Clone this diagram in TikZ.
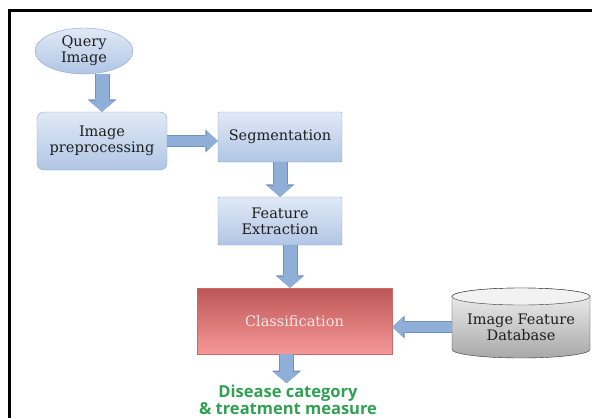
\documentclass[tikz,border=0pt]{standalone}
\usepackage{fontspec}
\setmainfont{DejaVu Serif}
\newfontfamily\notefont{Open Sans}
\usetikzlibrary{shapes.geometric,arrows.meta}

\definecolor{boxtop}{RGB}{224,233,246}
\definecolor{boxbot}{RGB}{176,198,229}
\definecolor{boxline}{RGB}{136,164,206}
\definecolor{arrowfill}{RGB}{143,174,216}
\definecolor{arrowline}{RGB}{112,144,192}
\definecolor{clstop}{RGB}{190,86,86}
\definecolor{clsbot}{RGB}{246,152,152}
\definecolor{clsline}{RGB}{196,108,108}
\definecolor{clstext}{RGB}{252,230,230}
\definecolor{cyltop}{RGB}{242,242,242}
\definecolor{cylbot}{RGB}{168,168,168}
\definecolor{cylline}{RGB}{50,50,50}
\definecolor{notegreen}{RGB}{48,160,82}
\definecolor{textgray}{RGB}{30,30,30}

\tikzset{
  stepbox/.style={draw=boxline, shade, top color=boxtop, bottom color=boxbot,
    text=textgray, align=center, inner sep=0pt,
    font=\fontsize{14.5}{16}\selectfont},
  fatdown/.style={line width=13pt, arrowfill,
    -{Triangle[width=26pt,length=11pt,line width=0pt]},
    preaction={draw=arrowline, line width=15pt,
      -{Triangle[width=29pt,length=12.5pt,line width=0pt]}}},
  fatside/.style={line width=10pt, arrowfill,
    -{Triangle[width=20pt,length=11pt,line width=0pt]},
    preaction={draw=arrowline, line width=12pt,
      -{Triangle[width=23pt,length=12.5pt,line width=0pt]}}}
}

\begin{document}
\begin{tikzpicture}[x=1pt,y=-1pt]
	\useasboundingbox (0,0) rectangle (592,418);
	\draw[line width=3pt] (592,10) -- (9,10) -- (9,418);

	% steps
	\node[stepbox, ellipse, minimum width=98pt, minimum height=46pt] (query) at (84,51) {Query\\Image};
	\node[stepbox, rounded corners=7pt, minimum width=130pt, minimum height=58pt] (pre) at (102,141) {Image\\preprocessing};
	\node[stepbox, rounded corners=1pt, minimum width=124pt, minimum height=50pt] (seg) at (280,137) {Segmentation};
	\node[stepbox, rounded corners=1pt, minimum width=124pt, minimum height=48pt] (feat) at (280,221) {Feature\\Extraction};
	\node[stepbox, draw=clsline, top color=clstop, bottom color=clsbot, text=clstext,
		minimum width=195pt, minimum height=66pt] (cls) at (294.5,321) {Classification};

	% database
	\path[draw=cylline, shade, top color=cyltop, bottom color=cylbot] (452,296.5) -- (452,349.5)
		arc[start angle=180, end angle=360, x radius=69pt, y radius=8.5pt] -- (590,296.5)
		arc[start angle=0, end angle=180, x radius=69pt, y radius=8.5pt] -- cycle;
	\draw[cylline, fill=cyltop] (521,296.5) ellipse[x radius=69pt, y radius=8.5pt];
	\node[text=textgray, align=center, inner sep=0pt, minimum width=138pt, minimum height=50pt,
		font=\fontsize{14.5}{16}\selectfont] (db) at (521,327) {Image Feature\\Database};

	\node[text=notegreen, align=center, inner sep=0pt,
		font=\notefont\bfseries\fontsize{16.5}{16.5}\selectfont] (result) at (288,400) {Disease category\\\& treatment measure};

	% arrows
	\draw[fatdown] (pre.north |- query.south) -- (pre.north);
	\draw[fatside] (pre.east) -- (seg.west |- pre.east);
	\draw[fatdown] (seg.south) -- (feat.north);
	\draw[fatdown] ([xshift=10pt]feat.south) -- ([xshift=10pt]feat.south |- cls.north);
	\draw[fatside] (db.west) -- (cls.east |- db.west);
	\draw[fatdown] ([xshift=-8pt]cls.south) -- ([xshift=-8pt,yshift=2pt]cls.south |- result.north);
\end{tikzpicture}
\end{document}
